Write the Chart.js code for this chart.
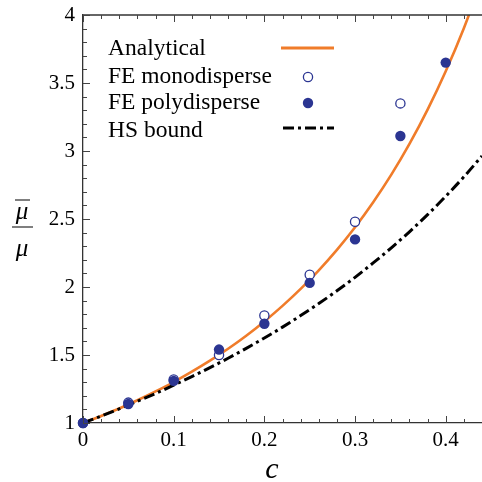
<!DOCTYPE html>
<html>
<head>
<meta charset="utf-8">
<script src="https://cdn.jsdelivr.net/npm/chart.js@4.4.1/dist/chart.umd.min.js"></script>
<style>
  html, body { margin: 0; padding: 0; background: #fff; }
  canvas { display: block; }
</style>
</head>
<body>
<canvas id="chart" width="482" height="482"></canvas>
<script>
// values
const FE_C      = [0, 0.05, 0.1, 0.15, 0.2, 0.25, 0.3, 0.35, 0.4];
const MONO_VAL  = [1.0, 1.15, 1.32, 1.50, 1.79, 2.09, 2.48, 3.35, null];
const POLY_VAL  = [1.0, 1.14, 1.31, 1.54, 1.73, 2.03, 2.35, 3.11, 3.65];

const CURVE_C      = [0, 0.02, 0.04, 0.06, 0.08, 0.10, 0.12, 0.14, 0.16, 0.18, 0.20, 0.22,
                      0.24, 0.26, 0.28, 0.30, 0.32, 0.34, 0.36, 0.38, 0.40, 0.42, 0.44];
const ANALYTIC_VAL = [1.000, 1.052, 1.107, 1.167, 1.232, 1.301, 1.377, 1.458, 1.546, 1.642, 1.747, 1.861,
                      1.986, 2.123, 2.273, 2.439, 2.623, 2.826, 3.052, 3.304, 3.586, 3.903, 4.26];
const HS_VAL       = [1.000, 1.051, 1.104, 1.160, 1.217, 1.278, 1.341, 1.407, 1.476, 1.549, 1.625, 1.705,
                      1.790, 1.878, 1.972, 2.071, 2.177, 2.288, 2.406, 2.532, 2.667, 2.810, 2.964];

const X_TICKS = [0, 0.1, 0.2, 0.3, 0.4];
const Y_TICKS = [1, 1.5, 2, 2.5, 3, 3.5, 4];
const LEGEND_LABELS = ['Analytical', 'FE monodisperse', 'FE polydisperse', 'HS bound'];

const ORANGE = '#f07c2a';
const NAVY   = '#2b3592';
const SERIF  = '"Liberation Serif", "DejaVu Serif", serif';
const HS_DASH = [11, 4, 3, 4];

const pts = (xs, ys) => xs.map((x, i) => ({ x, y: ys[i] })).filter(p => p.y != null);

// inward tick marks, top frame line, axis titles and the in-plot legend
const decorations = {
  id: 'decorations',
  afterDraw(chart) {
    const { ctx, chartArea: a, scales: { x, y } } = chart;
    ctx.save();

    // top frame line
    ctx.strokeStyle = '#333';
    ctx.lineWidth = 1.3;
    ctx.beginPath();
    ctx.moveTo(a.left, a.top); ctx.lineTo(a.right, a.top);
    ctx.stroke();

    // tick marks (minor every 0.02 / 0.1)
    ctx.strokeStyle = '#444';
    ctx.lineWidth = 1;
    ctx.beginPath();
    for (let i = 0; i <= 22; i++) {
      const px = Math.round(x.getPixelForValue(i * 0.02)) + 0.5;
      const len = i % 5 === 0 ? 7 : 4;
      ctx.moveTo(px, a.bottom); ctx.lineTo(px, a.bottom - len);
      ctx.moveTo(px, a.top); ctx.lineTo(px, a.top + len);
    }
    for (let i = 0; i <= 30; i++) {
      const py = Math.round(y.getPixelForValue(1 + i * 0.1)) + 0.5;
      const len = i % 5 === 0 ? 7 : 4;
      ctx.moveTo(a.left, py); ctx.lineTo(a.left + len, py);
    }
    ctx.stroke();

    // x title
    ctx.fillStyle = '#000';
    ctx.textAlign = 'center';
    ctx.textBaseline = 'alphabetic';
    ctx.font = 'italic 30px ' + SERIF;
    ctx.fillText('c', 272, 478);

    // y title: overline-mu over mu
    ctx.font = 'italic 25px ' + SERIF;
    ctx.fillText('\u03bc', 22, 219);
    ctx.fillText('\u03bc', 22, 256);
    ctx.strokeStyle = '#000';
    ctx.lineWidth = 1.2;
    ctx.beginPath();
    ctx.moveTo(15, 200); ctx.lineTo(30, 200);
    ctx.moveTo(12, 227); ctx.lineTo(33, 227);
    ctx.stroke();

    // legend
    ctx.font = '23.5px ' + SERIF;
    ctx.textAlign = 'left';
    const base = [55, 83, 109, 137];
    LEGEND_LABELS.forEach((t, i) => ctx.fillText(t, 108, base[i]));

    ctx.strokeStyle = ORANGE;
    ctx.lineWidth = 3;
    ctx.beginPath();
    ctx.moveTo(281, 48); ctx.lineTo(334, 48);
    ctx.stroke();

    ctx.fillStyle = '#fff';
    ctx.strokeStyle = NAVY;
    ctx.lineWidth = 1.3;
    ctx.beginPath();
    ctx.arc(308, 77, 4.6, 0, Math.PI * 2);
    ctx.fill(); ctx.stroke();

    ctx.fillStyle = NAVY;
    ctx.beginPath();
    ctx.arc(308, 103, 5.2, 0, Math.PI * 2);
    ctx.fill();

    ctx.strokeStyle = '#000';
    ctx.lineWidth = 3;
    ctx.setLineDash(HS_DASH);
    ctx.beginPath();
    ctx.moveTo(283, 128); ctx.lineTo(334, 128);
    ctx.stroke();

    ctx.restore();
  },
};

new Chart(document.getElementById('chart'), {
  data: {
    datasets: [
      {
        type: 'scatter',
        label: 'FE polydisperse',
        data: pts(FE_C, POLY_VAL),
        pointRadius: 5.2,
        pointBackgroundColor: NAVY,
        pointBorderWidth: 0,
        clip: false,
      },
      {
        type: 'scatter',
        label: 'FE monodisperse',
        data: pts(FE_C, MONO_VAL),
        pointRadius: 4.6,
        pointBackgroundColor: '#fff',
        pointBorderColor: NAVY,
        pointBorderWidth: 1.3,
        clip: false,
      },
      {
        type: 'line',
        label: 'HS bound',
        data: pts(CURVE_C, HS_VAL),
        borderColor: '#000',
        borderWidth: 3,
        borderDash: HS_DASH,
        pointRadius: 0,
        cubicInterpolationMode: 'monotone',
      },
      {
        type: 'line',
        label: 'Analytical',
        data: pts(CURVE_C, ANALYTIC_VAL),
        borderColor: ORANGE,
        borderWidth: 2.6,
        pointRadius: 0,
        cubicInterpolationMode: 'monotone',
      },
    ],
  },
  plugins: [decorations],
  options: {
    responsive: false,
    animation: false,
    layout: { autoPadding: false, padding: { top: 15, right: 0, left: 0, bottom: 0 } },
    plugins: {
      legend: { display: false },
      tooltip: { enabled: false },
    },
    scales: {
      x: {
        type: 'linear',
        min: 0,
        max: 0.44,
        afterFit: s => { s.height = 59; s.paddingLeft = 0; s.paddingRight = 0; },
        afterBuildTicks: s => { s.ticks = X_TICKS.map(value => ({ value })); },
        ticks: {
          padding: 5,
          color: '#000',
          font: { family: SERIF, size: 21 },
          maxRotation: 0,
          callback: v => String(+v.toFixed(1)),
        },
        grid: { display: false, drawTicks: false },
        border: { color: '#333', width: 1.3 },
      },
      y: {
        type: 'linear',
        min: 1,
        max: 4,
        afterFit: s => { s.width = 83; s.paddingTop = 0; s.paddingBottom = 0; },
        afterBuildTicks: s => { s.ticks = Y_TICKS.map(value => ({ value })); },
        ticks: {
          padding: 8,
          color: '#000',
          font: { family: SERIF, size: 21 },
          callback: v => String(+v.toFixed(1)),
        },
        grid: { display: false, drawTicks: false },
        border: { color: '#333', width: 1.3 },
      },
    },
  },
});
</script>
</body>
</html>
